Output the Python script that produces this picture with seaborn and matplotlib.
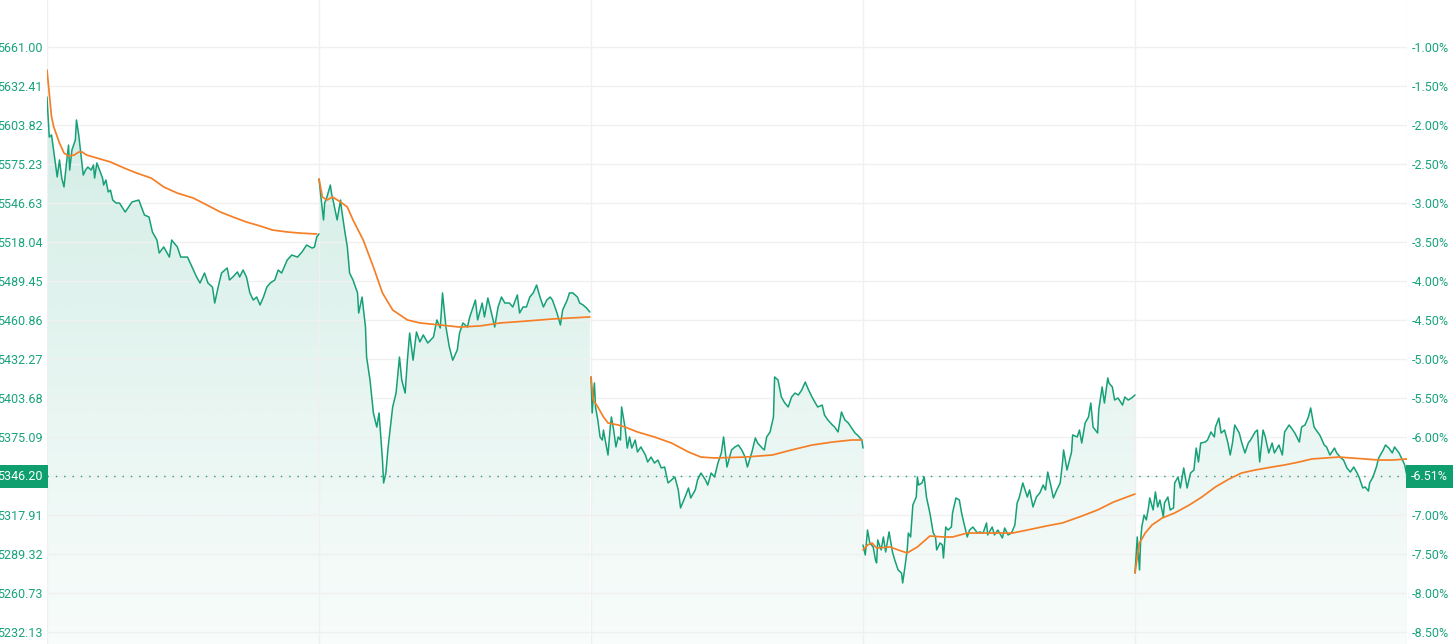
import numpy as np
import seaborn as sns
import matplotlib
matplotlib.use("Agg")
import matplotlib.pyplot as plt
from matplotlib.patches import Polygon
from matplotlib.transforms import blended_transform_factory

# 5-day intraday chart: price (left) and change vs previous close (right)
prev_close = 5718.18
last_price = 5346.20
pct_ticks = [-1.0, -1.5, -2.0, -2.5, -3.0, -3.5, -4.0, -4.5,
             -5.0, -5.5, -6.0, -6.5, -7.0, -7.5, -8.0, -8.5]
y_lo, y_hi = 5223.35, 5695.45
day_minutes = 240

# day 1
day1_t = [0, 2, 4, 7, 9, 11, 13, 15, 17, 19, 20, 22, 25, 26, 28, 30, 32, 34, 36, 39,
          41, 42, 44, 47, 49, 50, 52, 54, 56, 58, 61, 64, 69, 75, 81, 86, 90, 93, 97, 99,
          103, 108, 110, 115, 118, 124, 128, 132, 135, 139, 142, 146, 148, 151, 154, 159,
          161, 164, 168, 170, 173, 176, 179, 182, 185, 188, 191, 194, 197, 201, 204, 207,
          212, 216, 221, 225, 229, 234, 236, 238, 240]
day1_p = [5624.3, 5595.0, 5596.5, 5578.2, 5565.7, 5578.2, 5564.9, 5558.4, 5574.5, 5589.1,
          5570.8, 5585.5, 5592.8, 5607.5, 5596.5, 5581.8, 5567.1, 5570.8, 5573.0, 5570.8,
          5574.5, 5564.9, 5576.0, 5569.4, 5564.9, 5559.8, 5563.5, 5554.7, 5556.1, 5548.8,
          5546.6, 5546.6, 5540.0, 5547.4, 5548.8, 5537.8, 5536.4, 5525.4, 5519.5, 5510.0,
          5514.4, 5507.0, 5519.5, 5514.4, 5507.0, 5507.0, 5499.7, 5492.4, 5488.0, 5495.3,
          5488.0, 5485.0, 5473.3, 5485.0, 5495.3, 5499.0, 5490.2, 5492.4, 5496.1, 5492.4,
          5497.5, 5492.4, 5480.7, 5475.5, 5477.7, 5471.9, 5477.7, 5485.0, 5488.0, 5490.2,
          5497.5, 5495.3, 5504.9, 5508.5, 5507.0, 5510.7, 5515.8, 5513.6, 5514.4, 5521.7,
          5524.0]
day1_avg_t = [0, 4, 6, 11, 15, 19, 24, 28, 31, 35, 44, 56, 68, 79, 92, 103, 115, 129,
              141, 153, 164, 176, 188, 199, 212, 223, 238]
day1_avg_p = [5644.1, 5609.7, 5602.3, 5590.6, 5583.3, 5581.1, 5581.8, 5584.0, 5584.0,
              5581.8, 5579.6, 5576.7, 5572.3, 5568.6, 5564.9, 5558.4, 5553.9, 5550.3,
              5545.2, 5540.0, 5536.4, 5532.7, 5529.8, 5526.8, 5525.4, 5524.6, 5523.9]

# day 2
day2_t = [0, 2, 4, 5, 7, 10, 11, 12, 16, 19, 20, 23, 25, 27, 30, 34, 35, 38, 41, 42,
          45, 48, 51, 53, 56, 57, 59, 61, 64, 65, 68, 71, 73, 76, 78, 80, 83, 86, 89, 92,
          96, 101, 104, 107, 109, 112, 115, 118, 122, 124, 127, 131, 133, 136, 138, 140,
          144, 146, 149, 153, 155, 158, 161, 164, 168, 171, 175, 177, 180, 183, 186, 189,
          192, 195, 198, 201, 204, 206, 210, 213, 215, 219, 221, 224, 228, 230, 233, 236, 239]
day2_p = [5564.2, 5548.8, 5534.2, 5546.6, 5551.0, 5559.8, 5553.9, 5550.3, 5534.2, 5548.8,
          5541.5, 5524.6, 5514.4, 5495.3, 5490.2, 5480.7, 5466.0, 5477.7, 5455.7, 5433.7,
          5416.9, 5392.7, 5382.4, 5392.7, 5358.2, 5341.4, 5348.7, 5367.8, 5389.8, 5397.1,
          5407.3, 5433.7, 5416.9, 5407.3, 5431.4, 5451.3, 5431.4, 5452.1, 5444.8, 5449.9,
          5444.0, 5448.4, 5460.9, 5455.0, 5480.7, 5455.7, 5441.1, 5431.4, 5438.9, 5451.3,
          5458.7, 5455.7, 5463.1, 5470.4, 5475.5, 5460.9, 5473.3, 5463.1, 5477.0, 5463.1,
          5455.7, 5470.4, 5477.7, 5473.3, 5473.3, 5470.4, 5479.2, 5466.0, 5470.4, 5470.4,
          5477.7, 5480.7, 5486.5, 5477.7, 5470.4, 5475.5, 5477.7, 5475.5, 5466.0, 5457.2,
          5468.2, 5475.5, 5480.7, 5480.7, 5477.7, 5473.3, 5471.9, 5469.7, 5466.7]
day2_avg_t = [0, 3, 7, 12, 19, 25, 30, 39, 48, 56, 65, 78, 89, 107, 124, 142, 160, 183, 206, 239]
day2_avg_p = [5564.2, 5551.0, 5548.8, 5551.0, 5547.4, 5543.7, 5534.2, 5519.5, 5499.7,
              5480.7, 5468.2, 5460.9, 5458.7, 5457.2, 5455.7, 5456.5, 5458.7, 5460.1,
              5461.6, 5463.1]

# day 3
day3_t = [0, 1, 3, 4, 6, 8, 10, 11, 13, 15, 17, 18, 20, 22, 24, 26, 27, 30, 32, 34,
          36, 39, 41, 44, 48, 50, 53, 56, 59, 62, 65, 68, 71, 74, 77, 79, 83, 86, 88, 92,
          94, 97, 101, 103, 106, 109, 112, 115, 117, 120, 124, 127, 130, 133, 136, 138,
          142, 145, 147, 151, 153, 155, 158, 161, 162, 165, 168, 171, 174, 177, 180, 183,
          186, 189, 192, 195, 198, 200, 204, 206, 209, 213, 215, 218, 221, 224, 227, 230,
          233, 235, 239, 240]
day3_p = [5419.1, 5392.7, 5414.7, 5397.1, 5387.6, 5375.1, 5372.9, 5380.2, 5370.7, 5361.9,
          5382.4, 5389.8, 5380.2, 5367.8, 5375.1, 5372.9, 5397.1, 5382.4, 5367.0, 5375.1,
          5367.0, 5372.9, 5364.1, 5367.8, 5361.9, 5356.8, 5360.4, 5356.0, 5358.2, 5352.4,
          5353.1, 5341.4, 5343.6, 5345.8, 5336.3, 5323.1, 5331.1, 5337.7, 5330.4, 5336.3,
          5343.6, 5348.7, 5343.6, 5339.9, 5348.7, 5345.8, 5356.0, 5363.4, 5375.1, 5353.1,
          5365.6, 5367.8, 5369.2, 5365.6, 5360.4, 5353.1, 5364.1, 5374.4, 5370.7, 5367.0,
          5365.6, 5375.1, 5378.8, 5389.8, 5419.1, 5416.9, 5404.4, 5400.0, 5397.1, 5404.4,
          5407.3, 5405.9, 5409.6, 5415.4, 5409.6, 5404.4, 5400.0, 5397.1, 5398.5, 5391.2,
          5387.6, 5383.9, 5382.4, 5378.8, 5393.4, 5387.6, 5385.4, 5381.7, 5378.0, 5376.6,
          5372.9, 5367.0]
day3_avg_t = [0, 2, 6, 11, 15, 24, 30, 41, 56, 71, 86, 97, 109, 136, 160, 177, 195, 213, 230, 239]
day3_avg_p = [5419.1, 5402.2, 5397.1, 5389.8, 5385.4, 5383.9, 5382.4, 5378.8, 5375.1,
              5370.7, 5364.1, 5360.4, 5359.7, 5360.4, 5361.9, 5365.6, 5369.2, 5371.4,
              5372.9, 5372.9]

# day 4
day4_t = [0, 2, 4, 6, 9, 11, 12, 13, 16, 18, 20, 23, 26, 28, 31, 34, 35, 37, 39, 40,
          42, 44, 47, 48, 49, 52, 54, 56, 59, 62, 64, 65, 68, 70, 71, 73, 75, 78, 79, 82,
          85, 87, 89, 92, 94, 97, 101, 103, 106, 109, 110, 114, 116, 119, 123, 125, 128,
          131, 134, 136, 138, 141, 145, 147, 150, 153, 156, 159, 161, 163, 166, 168, 171,
          174, 176, 177, 180, 184, 185, 189, 191, 193, 196, 199, 201, 203, 207, 208, 211,
          213, 216, 217, 220, 222, 225, 229, 231, 234, 237, 240]
day4_p = [5295.9, 5288.6, 5306.9, 5297.4, 5294.5, 5285.0, 5282.8, 5299.6, 5292.3, 5301.8,
          5290.8, 5305.5, 5290.8, 5285.0, 5277.6, 5275.4, 5268.1, 5279.8, 5292.3, 5304.7,
          5301.8, 5325.3, 5331.1, 5345.8, 5339.9, 5341.4, 5345.8, 5331.1, 5319.4, 5304.7,
          5301.8, 5292.3, 5297.4, 5295.9, 5286.4, 5309.1, 5306.9, 5309.1, 5319.4, 5330.4,
          5328.9, 5319.4, 5312.1, 5301.8, 5306.9, 5309.1, 5304.7, 5305.5, 5304.7, 5312.1,
          5303.3, 5309.1, 5303.3, 5306.9, 5301.1, 5308.4, 5303.3, 5304.7, 5310.6, 5326.7,
          5331.1, 5341.4, 5331.1, 5336.3, 5323.8, 5331.1, 5334.1, 5339.9, 5336.3, 5349.4,
          5338.5, 5330.4, 5336.3, 5341.4, 5356.0, 5365.6, 5350.9, 5364.1, 5376.6, 5375.1,
          5380.2, 5370.7, 5385.4, 5389.8, 5400.0, 5382.4, 5378.0, 5394.9, 5411.8, 5400.0,
          5418.4, 5414.7, 5411.8, 5402.2, 5403.7, 5398.5, 5404.4, 5402.2, 5403.7, 5405.9]
day4_avg_t = [0, 4, 8, 12, 24, 31, 39, 48, 59, 71, 79, 92, 103, 121, 132, 145, 162, 176,
              191, 207, 221, 240]
day4_avg_p = [5292.3, 5295.9, 5297.4, 5293.7, 5294.5, 5292.3, 5290.1, 5294.5, 5302.5,
              5301.8, 5301.8, 5304.7, 5304.7, 5304.7, 5304.7, 5306.9, 5309.9, 5312.1,
              5316.5, 5321.6, 5327.4, 5333.3]

# day 5
day5_t = [0, 2, 4, 5, 6, 8, 10, 12, 13, 16, 18, 20, 22, 25, 26, 29, 31, 34, 35, 38,
          40, 43, 46, 49, 52, 54, 56, 58, 62, 64, 67, 70, 71, 74, 76, 79, 82, 84, 86, 88,
          92, 94, 97, 100, 102, 106, 108, 110, 113, 115, 118, 121, 123, 127, 130, 132,
          136, 138, 141, 145, 147, 150, 153, 155, 158, 161, 163, 167, 169, 172, 176, 178,
          181, 184, 187, 190, 193, 196, 198, 201, 203, 206, 207, 210, 213, 215, 219, 221,
          224, 227, 229, 233, 236, 238, 240]
day5_p = [5275.4, 5301.8, 5277.6, 5299.6, 5309.1, 5317.9, 5314.3, 5323.8, 5330.4, 5321.6,
          5334.8, 5323.8, 5328.9, 5316.5, 5326.7, 5331.1, 5321.6, 5323.1, 5341.4, 5345.8,
          5337.7, 5352.4, 5337.7, 5348.7, 5350.9, 5367.0, 5356.8, 5370.7, 5371.4, 5372.9,
          5378.8, 5375.1, 5382.4, 5389.0, 5378.0, 5380.2, 5370.7, 5361.9, 5370.7, 5383.9,
          5378.0, 5371.4, 5363.4, 5370.7, 5372.9, 5378.8, 5380.2, 5356.8, 5380.2, 5375.1,
          5363.4, 5370.7, 5363.4, 5369.2, 5361.9, 5378.8, 5383.9, 5381.7, 5378.0, 5371.4,
          5382.4, 5383.9, 5389.8, 5396.4, 5382.4, 5378.8, 5376.6, 5369.2, 5367.8, 5361.9,
          5367.0, 5363.4, 5360.4, 5358.2, 5352.4, 5349.4, 5353.1, 5348.7, 5345.0, 5337.7,
          5338.5, 5335.5, 5341.4, 5345.8, 5353.1, 5359.7, 5365.6, 5369.2, 5367.0, 5363.4,
          5367.8, 5363.4, 5358.2, 5354.6, 5346.2]
day5_avg_t = [0, 2, 4, 9, 15, 24, 35, 48, 59, 71, 83, 94, 106, 121, 132, 145, 156, 168,
              180, 191, 203, 215, 227, 240]
day5_avg_p = [5275.4, 5287.1, 5297.4, 5304.7, 5310.6, 5315.7, 5319.4, 5325.3, 5331.1,
              5338.5, 5344.3, 5348.7, 5350.9, 5353.1, 5354.6, 5356.8, 5359.0, 5359.7,
              5360.4, 5359.7, 5359.0, 5358.2, 5358.2, 5359.0]

days = [(day1_t, day1_p, day1_avg_t, day1_avg_p),
        (day2_t, day2_p, day2_avg_t, day2_avg_p),
        (day3_t, day3_p, day3_avg_t, day3_avg_p),
        (day4_t, day4_p, day4_avg_t, day4_avg_p),
        (day5_t, day5_p, day5_avg_t, day5_avg_p)]

GREEN = "#16a078"
ORANGE = "#f57f26"
TXT = "#19a37d"
GRID = "#f0f0f0"

sns.set_style("white")
plt.rcParams["font.family"] = ["Roboto", "DejaVu Sans"]

fig = plt.figure(figsize=(14.54, 6.44), dpi=100)
ax = fig.add_axes([47 / 1454, 0, 1360 / 1454, 1])

# vertical gradient used under the price line
grad = np.zeros((256, 1, 4))
grad[:, 0, :3] = matplotlib.colors.to_rgb(GREEN)
grad[:, 0, 3] = np.linspace(0.03, 0.22, 256)

for i, (t, p, at, ap) in enumerate(days):
    off = i * day_minutes
    x = np.array(t) + off
    xa = np.array(at) + off
    verts = [(x[0], y_lo)] + list(zip(x, p)) + [(x[-1], y_lo)]
    patch = Polygon(verts, closed=True, facecolor="none", edgecolor="none")
    ax.add_patch(patch)
    im = ax.imshow(grad, extent=[off, off + day_minutes, y_lo, y_hi], origin="lower",
                   aspect="auto", zorder=1, interpolation="bilinear")
    im.set_clip_path(patch)
    sns.lineplot(x=x, y=p, ax=ax, color=GREEN, linewidth=1.1, estimator=None,
                 sort=False, zorder=3)
    sns.lineplot(x=xa, y=ap, ax=ax, color=ORANGE, linewidth=1.25, estimator=None,
                 sort=False, zorder=4)

ax.axhline(last_price, color=GREEN, lw=1.0, ls=(0, (1, 5)), zorder=2.8)

price_ticks = [prev_close * (1 + v / 100) for v in pct_ticks]
ax.set_xlim(0, day_minutes * len(days))
ax.set_ylim(y_lo, y_hi)
ax.set_xticks([day_minutes * k for k in range(len(days) + 1)])
ax.set_xticklabels([])
ax.set_yticks(price_ticks)
ax.set_yticklabels([f"{v:.2f}" for v in price_ticks])
ax.grid(True, color=GRID, lw=1.0, zorder=2)
ax.set_axisbelow(False)
ax.tick_params(axis="both", length=0)
ax.tick_params(axis="y", pad=3, labelsize=9.0, labelcolor=TXT)
ax.set_xlabel("")
ax.set_ylabel("")
for s in ax.spines.values():
    s.set_visible(False)

ax2 = ax.twinx()
ax2.set_ylim(y_lo, y_hi)
ax2.set_yticks(price_ticks)
ax2.set_yticklabels([f"{v:.2f}%" for v in pct_ticks])
ax2.tick_params(axis="y", length=0, pad=3.5, labelsize=9.0, labelcolor=TXT)
for s in ax2.spines.values():
    s.set_visible(False)

last_pct = (last_price / prev_close - 1) * 100
tr = blended_transform_factory(ax.transAxes, ax.transData)
ax.text(-4 / 1360, last_price, f"{last_price:.2f}", transform=tr, ha="right", va="center",
        fontsize=9.0, color="white", zorder=10, clip_on=False,
        bbox=dict(boxstyle="square,pad=0.38", fc="#0f9f6e", ec="none"))
ax2.text(1 + 4 / 1360, last_price, f"{last_pct:.2f}%", transform=tr, ha="left",
         va="center", fontsize=9.0, color="white", zorder=10, clip_on=False,
         bbox=dict(boxstyle="square,pad=0.38", fc="#0f9f6e", ec="none"))

fig.savefig("out.png", dpi=100)
